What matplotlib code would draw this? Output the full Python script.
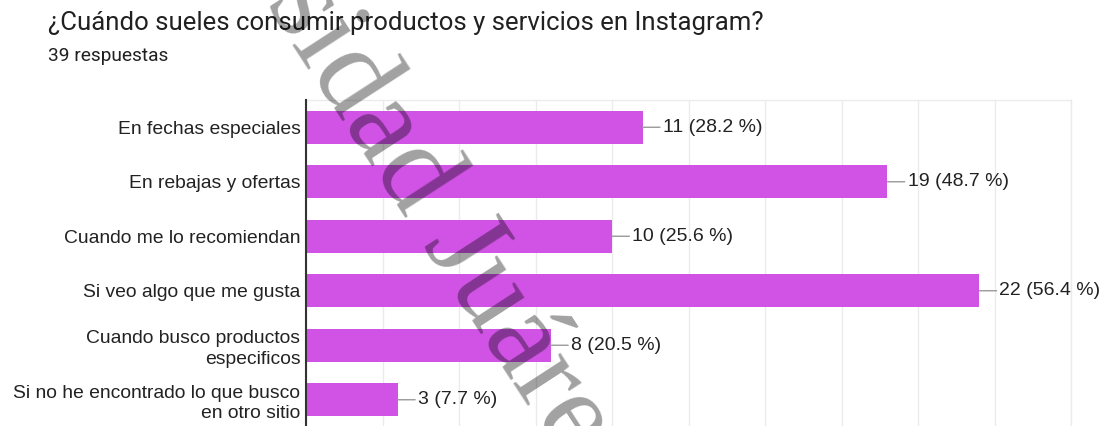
import matplotlib.pyplot as plt
import matplotlib
import numpy as np

matplotlib.rcParams['font.family'] = ['Liberation Sans', 'DejaVu Sans']

# datos
categorias = [
    'En fechas especiales',
    'En rebajas y ofertas',
    'Cuando me lo recomiendan',
    'Si veo algo que me gusta',
    'Cuando busco productos\nespecificos',
    'Si no he encontrado lo que busco\nen otro sitio',
]
respuestas = [11, 19, 10, 22, 8, 3]
porcentajes = [28.2, 48.7, 25.6, 56.4, 20.5, 7.7]
total = 39

titulo = '¿Cuándo sueles consumir productos y servicios en Instagram?'
subtitulo = f'{total} respuestas'
marca = 'sidad Juárez'

color_barra = '#d153e6'

W, H = 1102, 426
fig = plt.figure(figsize=(W / 100, H / 100), dpi=100)
ax = fig.add_axes([306 / W, -1 / H, 765 / W, 327 / H])

y = np.arange(len(categorias))
ax.barh(y, respuestas, height=0.61, color=color_barra, zorder=2)

ax.set_xlim(0, 25)
ax.set_ylim(len(categorias) - 0.5, -0.5)
ax.set_xticks(np.arange(0, 25.1, 2.5))
ax.set_xticklabels([])
ax.tick_params(axis='both', length=0)
ax.grid(True, axis='x', color='#ebebeb', linewidth=1, zorder=0)

ax.set_yticks(y)
ax.set_yticklabels(categorias, fontsize=13.9, color='#222222', linespacing=1.25)
ax.tick_params(axis='y', pad=4)

for s in ['top', 'right', 'bottom']:
    ax.spines[s].set_color('#ebebeb')
    ax.spines[s].set_linewidth(1)
ax.spines['left'].set_color('#333333')
ax.spines['left'].set_linewidth(1.5)
ax.spines['left'].set_zorder(3)

# etiquetas de valor con línea guía
for yi, v, p in zip(y, respuestas, porcentajes):
    ax.annotate(f'{v} ({p} %)', xy=(v, yi), xytext=(14.5, 0),
                textcoords='offset points', va='center', ha='left',
                fontsize=14, color='#222222',
                arrowprops=dict(arrowstyle='-', color='#999999', lw=1,
                                shrinkA=0, shrinkB=0))

fig.text(48 / W, 1 - 30 / H, titulo, fontsize=18.5, family=['Roboto', 'DejaVu Sans'],
         color='#212121', ha='left', va='baseline')
fig.text(48 / W, 1 - 61 / H, subtitulo, fontsize=13.8, family=['Roboto', 'DejaVu Sans'],
         color='#212121', ha='left', va='baseline')

# marca de agua
fig.text(265 / W, 1 - 2 / H, marca, fontsize=88, family=['Liberation Serif'],
         color='black', alpha=0.37, rotation=-57, rotation_mode='anchor',
         ha='left', va='baseline', zorder=10)

fig.savefig('out.png', dpi=100)
